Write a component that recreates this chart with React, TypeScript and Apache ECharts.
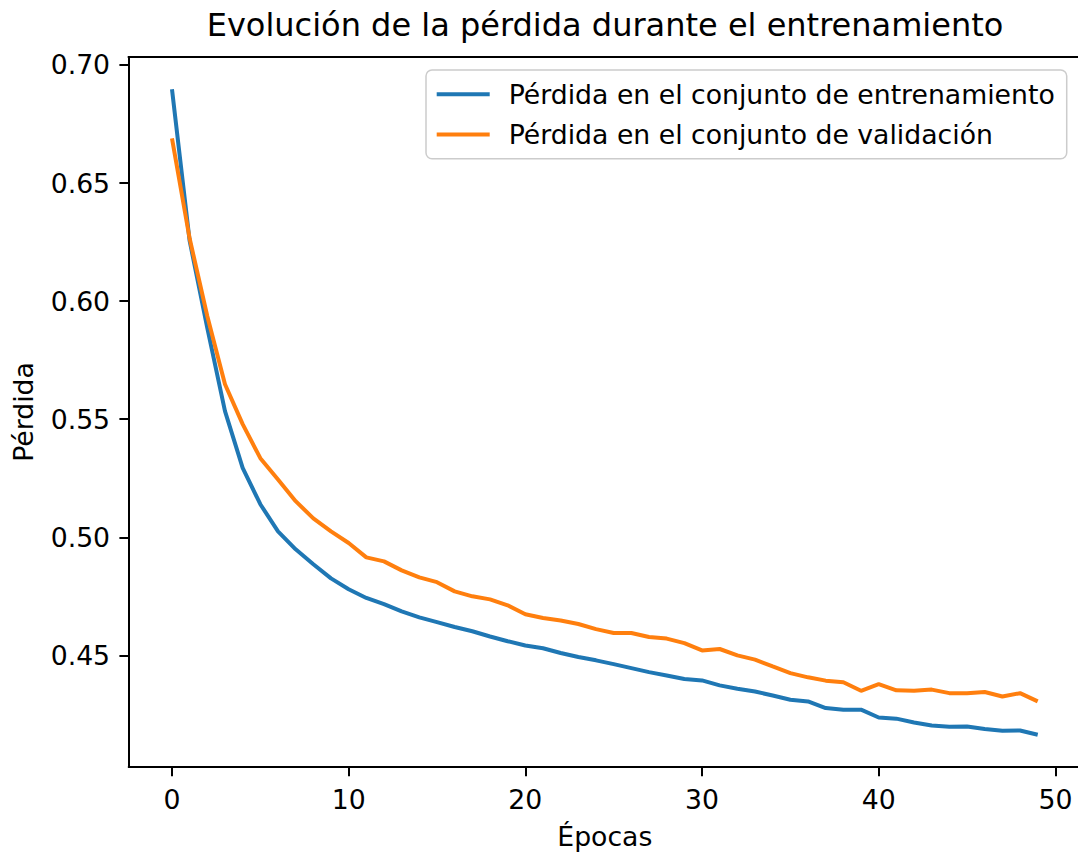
import React, { useEffect, useRef } from "react";
import * as echarts from "echarts";

const epochs = [0, 1, 2, 3, 4, 5, 6, 7, 8, 9, 10, 11, 12, 13, 14, 15, 16, 17, 18, 19, 20, 21, 22, 23, 24, 25, 26, 27, 28, 29, 30, 31, 32, 33, 34, 35, 36, 37, 38, 39, 40, 41, 42, 43, 44, 45, 46, 47, 48, 49];

const trainLoss = [0.6897, 0.6255, 0.5886, 0.5534, 0.5294, 0.514, 0.5025, 0.4949, 0.4886, 0.4826, 0.478, 0.4743, 0.4717, 0.4686, 0.4661, 0.4641, 0.462, 0.4602, 0.458, 0.456, 0.4542, 0.453, 0.451, 0.4493, 0.4479, 0.4463, 0.4446, 0.4429, 0.4415, 0.44, 0.4394, 0.4373, 0.4359, 0.4347, 0.433, 0.4312, 0.4305, 0.4277, 0.427, 0.427, 0.4237, 0.4232, 0.4216, 0.4203, 0.4198, 0.4199, 0.4188, 0.4181, 0.4182, 0.4164];

const valLoss = [0.6689, 0.6265, 0.5936, 0.5648, 0.5479, 0.5335, 0.5245, 0.5153, 0.508, 0.5025, 0.4976, 0.4915, 0.4898, 0.486, 0.483, 0.481, 0.4771, 0.475, 0.4737, 0.4712, 0.4674, 0.4658, 0.4648, 0.4633, 0.4611, 0.4595, 0.4595, 0.4578, 0.4571, 0.4552, 0.4521, 0.4527, 0.45, 0.4482, 0.4453, 0.4425, 0.4407, 0.4393, 0.4386, 0.435, 0.4378, 0.4352, 0.435, 0.4355, 0.434, 0.434, 0.4345, 0.4326, 0.434, 0.4305];

const xTicks = [0, 10, 20, 30, 40, 50];
const yTicks = [0.45, 0.5, 0.55, 0.6, 0.65, 0.7];

const seriesNames = [
  "Pérdida en el conjunto de entrenamiento",
  "Pérdida en el conjunto de validación",
];
const titleText = "Evolución de la pérdida durante el entrenamiento";
const xName = "Épocas";
const yName = "Pérdida";

const FONT = "DejaVu Sans";
const FS = 26.7;

export default function App() {
  const ref = useRef<HTMLDivElement>(null);
  useEffect(() => {
    if (!ref.current) return;
    const chart = echarts.init(ref.current, null, { renderer: "svg" });
    const all = trainLoss.concat(valLoss);
    const lo = Math.min(...all);
    const hi = Math.max(...all);
    const pad = (hi - lo) * 0.05;
    chart.setOption({
      animation: false,
      backgroundColor: "#ffffff",
      textStyle: { fontFamily: FONT },
      graphic: [
        {
          type: "text",
          x: 605,
          y: 41,
          style: {
            text: titleText,
            fontSize: 32,
            fontFamily: FONT,
            fill: "#000",
            align: "center",
            verticalAlign: "bottom",
          },
        },
        {
          type: "line",
          shape: { x1: 127.7, y1: 57, x2: 1090, y2: 57 },
          style: { stroke: "#000", lineWidth: 2 },
        },
      ],
      grid: {
        left: 128.7,
        top: 57,
        width: 952.3,
        height: 710,
        containLabel: false,
        outerBoundsMode: "none",
        show: false,
      },
      legend: {
        orient: "vertical",
        left: 426,
        top: 70,
        padding: [10.7, 12, 10.7, 10.7],
        icon: "rect",
        itemWidth: 53,
        itemHeight: 4,
        itemGap: 13.3,
        backgroundColor: "rgba(255,255,255,0.8)",
        borderColor: "#cccccc",
        borderWidth: 1.5,
        borderRadius: 6,
        textStyle: {
          fontFamily: FONT,
          fontSize: FS,
          color: "#000",
          lineHeight: 24.7,
          padding: [0, 0, 0, 14],
        },
        data: seriesNames,
      },
      xAxis: {
        type: "value",
        min: -2.45,
        max: 51.45,
        splitLine: { show: false },
        axisLine: { show: true, onZero: false, lineStyle: { color: "#000", width: 2 } },
        axisTick: {
          show: true,
          length: 9.3,
          lineStyle: { color: "#000", width: 2 },
          customValues: xTicks,
        },
        axisLabel: {
          customValues: xTicks,
          margin: 18.6,
          color: "#000",
          fontSize: FS,
          fontFamily: FONT,
        },
        name: xName,
        nameLocation: "middle",
        nameGap: 56,
        nameTextStyle: { fontSize: FS, fontFamily: FONT, color: "#000" },
      },
      yAxis: {
        type: "value",
        min: lo - pad,
        max: hi + pad,
        splitLine: { show: false },
        axisLine: { show: true, onZero: false, lineStyle: { color: "#000", width: 2 } },
        axisTick: {
          show: true,
          length: 9.3,
          lineStyle: { color: "#000", width: 2 },
          customValues: yTicks,
        },
        axisLabel: {
          customValues: yTicks,
          margin: 18.6,
          color: "#000",
          fontSize: FS,
          fontFamily: FONT,
          formatter: (v: number) => v.toFixed(2),
        },
        name: yName,
        nameLocation: "middle",
        nameRotate: 90,
        nameGap: 92,
        nameTextStyle: { fontSize: FS, fontFamily: FONT, color: "#000" },
      },
      series: [
        {
          name: seriesNames[0],
          type: "line",
          data: epochs.map((e, i) => [e, trainLoss[i]]),
          symbol: "none",
          lineStyle: { color: "#1f77b4", width: 4 },
          itemStyle: { color: "#1f77b4" },
        },
        {
          name: seriesNames[1],
          type: "line",
          data: epochs.map((e, i) => [e, valLoss[i]]),
          symbol: "none",
          lineStyle: { color: "#ff7f0e", width: 4 },
          itemStyle: { color: "#ff7f0e" },
        },
      ],
    });
    return () => chart.dispose();
  }, []);
  return (
    <div
      ref={ref}
      style={{ position: "absolute", left: 0, top: 0, width: 1078, height: 855 }}
    />
  );
}
